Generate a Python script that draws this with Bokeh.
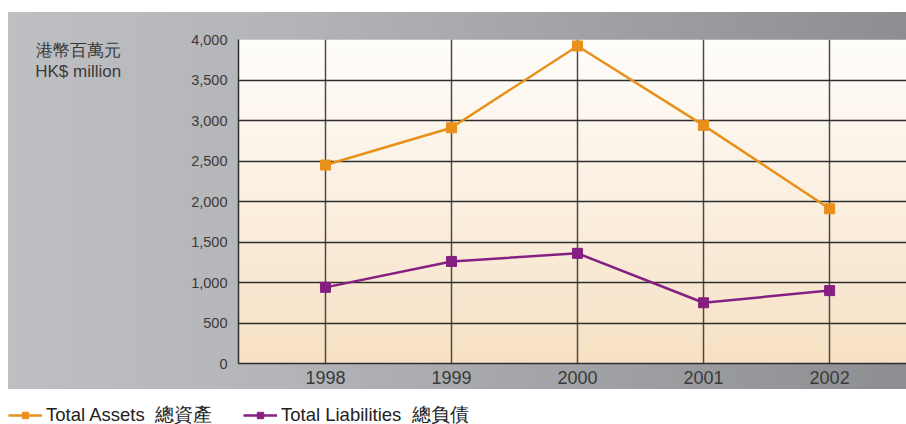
import numpy as np
from bokeh.plotting import figure
from bokeh.layouts import column, row
from bokeh.models import Range1d, NumeralTickFormatter, Legend, LegendItem
from bokeh.embed import file_html
from bokeh.resources import INLINE

# ---- data ----
years = [1998, 1999, 2000, 2001, 2002]
total_assets = [2450, 2910, 3920, 2940, 1910]
total_liabilities = [940, 1260, 1360, 750, 900]
y_ticks = [0, 500, 1000, 1500, 2000, 2500, 3000, 3500, 4000]
assets_label = "Total Assets\u00a0\u00a0總資產"
liab_label = "Total Liabilities\u00a0\u00a0總負債"
unit_label = "\n\n港幣百萬元\nHK$ million"

FONT = "Liberation Sans"
ORANGE = "#e8901a"
PURPLE = "#861f82"

X0, X1 = 1997.31, 2002.61
Y0, Y1 = 0, 4000

p = figure(width=906, height=392, x_range=Range1d(X0, X1), y_range=Range1d(Y0, Y1),
           output_backend="svg", toolbar_location=None,
           min_border_left=238, min_border_right=0, min_border_top=39, min_border_bottom=29)
p.border_fill_color = None
p.background_fill_color = None
p.outline_line_color = None
p.styles = {"background": "linear-gradient(to right, #bebfc3 0%, #b4b5b9 30%, #8d8e92 100%) 8px 12px / calc(100% - 8px) 377px no-repeat"}

# frame background: vertical gradient white (top) -> peach (bottom)
N = 200
bottom = np.array([0xf7, 0xe1, 0xc4], dtype=float)
top = np.array([0xff, 0xfe, 0xfc], dtype=float)
t = np.linspace(0, 1, N)[:, None]
rgb = (bottom * (1 - t) + top * t).astype(np.uint8)
img = np.empty((N, 1), dtype=np.uint32)
view = img.view(dtype=np.uint8).reshape((N, 1, 4))
view[:, 0, 0] = rgb[:, 0]
view[:, 0, 1] = rgb[:, 1]
view[:, 0, 2] = rgb[:, 2]
view[:, 0, 3] = 255
bg = p.image_rgba(image=[img], x=X0, y=Y0, dw=X1 - X0, dh=Y1 - Y0)
bg.level = "image"

# grids
p.xgrid.grid_line_color = "#4d4a46"
p.xgrid.grid_line_width = 1.5
p.ygrid.grid_line_color = "#2e2e2e"
p.ygrid.grid_line_width = 1.3

# axes
p.xaxis.ticker = years
p.yaxis.ticker = y_ticks
p.yaxis.formatter = NumeralTickFormatter(format="0,0")
for ax in (p.xaxis[0], p.yaxis[0]):
    ax.axis_line_color = "#2e2e2e"
    ax.axis_line_width = 1.5
    ax.major_tick_line_color = None
    ax.minor_tick_line_color = None
    ax.major_label_text_font = FONT
    ax.major_label_text_color = "#3a3a3a"
p.yaxis.major_label_text_font_size = "14.5px"
p.yaxis.major_label_standoff = 5
p.xaxis.major_label_text_font_size = "18px"
p.xaxis.major_label_standoff = 1

# unit label as horizontal y-axis label at the top
yax = p.yaxis[0]
yax.axis_label = unit_label
yax.axis_label_orientation = "horizontal"
yax.axis_label_align = "end"
yax.axis_label_text_align = "left"
yax.axis_label_standoff = 67
yax.axis_label_text_font = FONT
yax.axis_label_text_font_style = "normal"
yax.axis_label_text_font_size = "17px"
yax.axis_label_text_color = "#3a3a3a"
yax.axis_label_text_line_height = 1.14

# series
p.line(years, total_assets, line_color=ORANGE, line_width=2.5)
p.scatter(years, total_assets, marker="square", size=10, fill_color=ORANGE, line_color=ORANGE)
p.line(years, total_liabilities, line_color=PURPLE, line_width=2.5)
p.scatter(years, total_liabilities, marker="square", size=10, fill_color=PURPLE, line_color=PURPLE)

# legend strip below the chart (same series, drawn off-range so only legend shows)
lg = figure(width=906, height=32, x_range=Range1d(0, 1), y_range=Range1d(0, 1),
            output_backend="svg", toolbar_location=None,
            x_axis_type=None, y_axis_type=None,
            min_border_left=0, min_border_right=0, min_border_top=0, min_border_bottom=0)
lg.grid.visible = False
lg.outline_line_color = None
lg.border_fill_color = "white"
lg.background_fill_color = "white"
l1 = lg.line(years, total_assets, line_color=ORANGE, line_width=2.5)
s1 = lg.scatter(years, total_assets, marker="square", size=10, fill_color=ORANGE, line_color=ORANGE)
l2 = lg.line(years, total_liabilities, line_color=PURPLE, line_width=2.5)
s2 = lg.scatter(years, total_liabilities, marker="square", size=10, fill_color=PURPLE, line_color=PURPLE)

legend = Legend(items=[LegendItem(label=assets_label, renderers=[l1, s1]),
                       LegendItem(label=liab_label, renderers=[l2, s2])],
                orientation="horizontal", location=(8, -3),
                glyph_width=34, glyph_height=16, label_height=16, label_standoff=4, spacing=31,
                padding=0, margin=0, border_line_color=None, background_fill_alpha=0,
                label_text_font=FONT, label_text_font_size="18.5px", label_text_color="#222222")
lg.add_layout(legend)

layout = column(p, row(lg), spacing=0)
open("out.html", "w").write(file_html(layout, INLINE))
